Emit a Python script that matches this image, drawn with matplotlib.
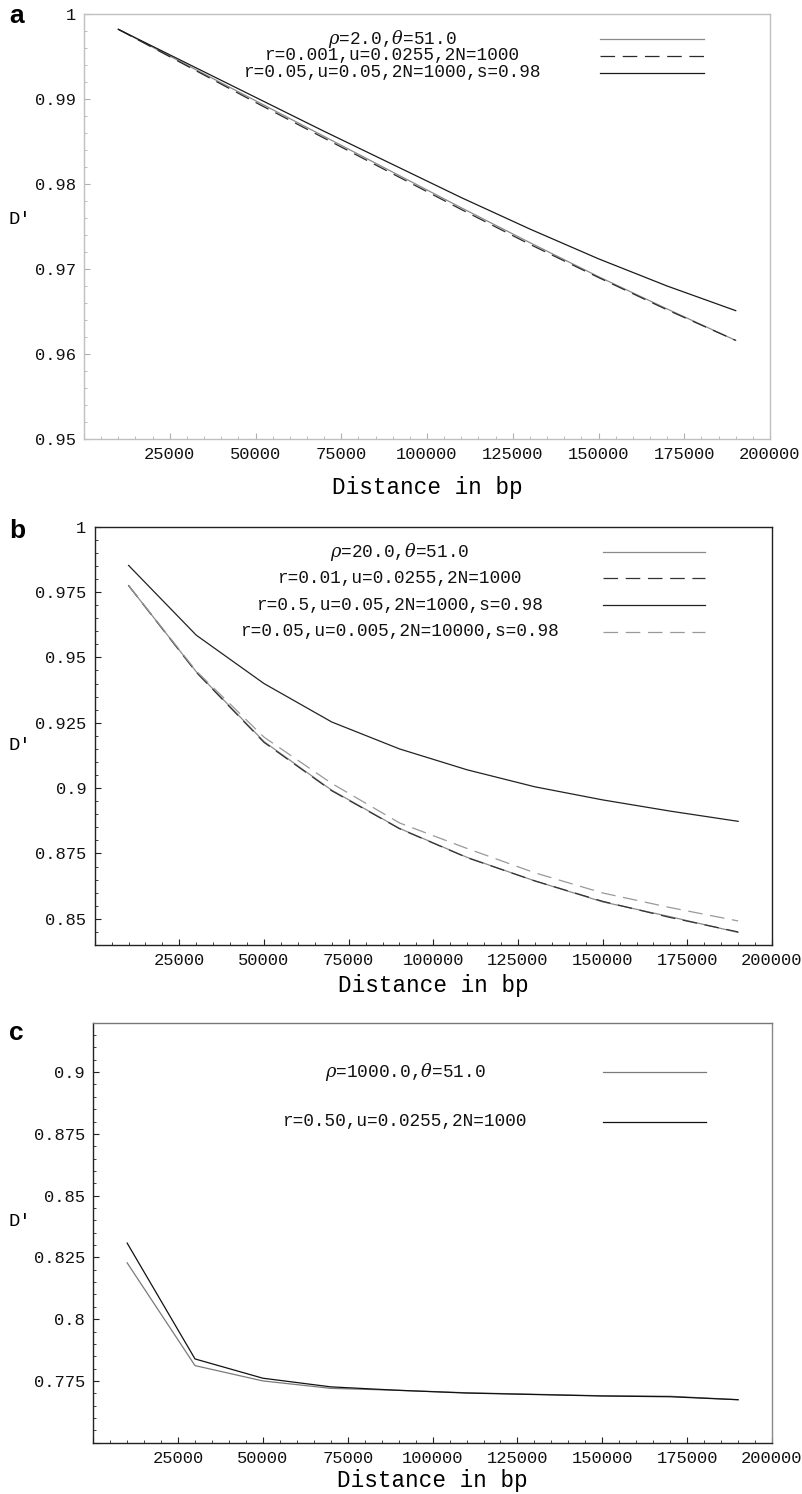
import matplotlib
matplotlib.use('Agg')
import matplotlib.pyplot as plt
from matplotlib.ticker import MultipleLocator, FuncFormatter

plt.rcParams['font.family'] = ['Liberation Mono', 'DejaVu Sans Mono']
plt.rcParams['mathtext.fontset'] = 'dejavuserif'
plt.rcParams['lines.scale_dashes'] = False

# distance in bp (same grid for all panels)
x_bp = [10000, 30000, 50000, 70000, 90000, 110000, 130000, 150000, 170000, 190000]

# panel a
a_labels = ['$\\rho$=2.0,$\\theta$=51.0', 'r=0.001,u=0.0255,2N=1000',
            'r=0.05,u=0.05,2N=1000,s=0.98']
a_rho = [0.9982, 0.9940, 0.9898, 0.9856, 0.9814, 0.9772, 0.9731, 0.9691, 0.9653, 0.9616]
a_r001 = [0.9982, 0.9939, 0.9896, 0.9854, 0.9812, 0.9770, 0.9729, 0.9690, 0.9652, 0.9616]
a_sel = [0.9982, 0.9942, 0.9902, 0.9862, 0.9823, 0.9784, 0.9747, 0.9712, 0.9680, 0.9651]

# panel b
b_labels = ['$\\rho$=20.0,$\\theta$=51.0', 'r=0.01,u=0.0255,2N=1000',
            'r=0.5,u=0.05,2N=1000,s=0.98', 'r=0.05,u=0.005,2N=10000,s=0.98']
b_rho = [0.9775, 0.9445, 0.9178, 0.8992, 0.8846, 0.8735, 0.8645, 0.8565, 0.8508, 0.8448]
b_r001 = [0.9775, 0.9443, 0.9175, 0.8990, 0.8845, 0.8734, 0.8645, 0.8567, 0.8505, 0.8450]
b_sel = [0.9852, 0.9585, 0.9400, 0.9253, 0.9150, 0.9070, 0.9005, 0.8955, 0.8912, 0.8873]
b_sel2 = [0.9775, 0.9448, 0.9195, 0.9018, 0.8867, 0.8769, 0.8676, 0.8599, 0.8543, 0.8492]

# panel c
c_labels = ['$\\rho$=1000.0,$\\theta$=51.0', 'r=0.50,u=0.0255,2N=1000']
c_rho = [0.8228, 0.7812, 0.7750, 0.7720, 0.7712, 0.7702, 0.7696, 0.7690, 0.7688, 0.7674]
c_r050 = [0.8308, 0.7839, 0.7761, 0.7726, 0.7712, 0.7701, 0.7695, 0.7689, 0.7686, 0.7674]

DASH = (10.5, 5.5)


def style_axes(ax, ylim, ymajor, yminor, spine_col, tick_col, skip_below=None):
    ax.set_xlim(0, 200000)
    ax.set_ylim(*ylim)
    ax.xaxis.set_major_locator(MultipleLocator(25000))
    ax.xaxis.set_minor_locator(MultipleLocator(5000))
    ax.yaxis.set_major_locator(MultipleLocator(ymajor))
    ax.yaxis.set_minor_locator(MultipleLocator(yminor))
    ax.xaxis.set_major_formatter(FuncFormatter(lambda v, p: '' if v == 0 else '%d' % v))

    def yfmt(v, p):
        if skip_below is not None and v < skip_below:
            return ''
        return '%g' % round(v, 4)
    ax.yaxis.set_major_formatter(FuncFormatter(yfmt))
    ax.tick_params(which='both', direction='in', colors=tick_col, labelcolor='#111111',
                   labelsize=12.3, pad=6)
    ax.tick_params(which='major', length=4.5, width=0.8)
    ax.tick_params(which='minor', length=2.5, width=0.6)
    for sp in ax.spines.values():
        sp.set_color(spine_col)
        sp.set_linewidth(1.0)


def key(ax, rows, labels, styles, xc, x0, x1):
    for y, lab, st in zip(rows, labels, styles):
        ax.text(xc, y, lab, transform=ax.transAxes, ha='center', va='center',
                fontsize=12.8, color='#111111')
        ax.plot([x0, x1], [y, y], transform=ax.transAxes, clip_on=False, **st)


fig = plt.figure(figsize=(8.03, 14.94), dpi=100)

# ---- a
ax = fig.add_axes([84/803, 1 - 439/1494, 686/803, 425/1494])
s_rho = dict(color='#8a8a8a', lw=0.9)
s_r = dict(color='#2a2a2a', lw=0.9, ls=(0, DASH))
s_sel = dict(color='#1a1a1a', lw=0.9)
ax.plot(x_bp, a_rho, **s_rho)
ax.plot(x_bp, a_r001, **s_r)
ax.plot(x_bp, a_sel, **s_sel)
style_axes(ax, (0.95, 1.0), 0.01, 0.002, '#c0c0c0', '#b0b0b0')
key(ax, [0.9405, 0.9012, 0.8619], a_labels, [s_rho, s_r, s_sel], 0.450, 0.752, 0.904)
ax.set_xlabel('Distance in bp', fontsize=16.3, labelpad=10)
fig.text(8/803, 1 - 219/1494, "D'", fontsize=13.5, ha='left', va='center')
fig.text(9/803, 1 - 16/1494, 'a', fontsize=19, fontweight='bold',
         family='Liberation Sans', ha='left', va='center')

# ---- b
ax = fig.add_axes([94.7/803, 1 - 945/1494, 677.3/803, 418.3/1494])
s_rho = dict(color='#8a8a8a', lw=0.9)
s_r = dict(color='#333333', lw=0.9, ls=(0, DASH))
s_sel = dict(color='#222222', lw=0.9)
s_sel2 = dict(color='#999999', lw=0.9, ls=(0, DASH))
ax.plot(x_bp, b_rho, **s_rho)
ax.plot(x_bp, b_r001, **s_r)
ax.plot(x_bp, b_sel, **s_sel)
ax.plot(x_bp, b_sel2, **s_sel2)
style_axes(ax, (0.84, 1.0), 0.025, 0.005, '#222222', '#222222')
key(ax, [0.940, 0.8766, 0.8127, 0.7489], b_labels, [s_rho, s_r, s_sel, s_sel2],
    0.4508, 0.7505, 0.901)
ax.set_xlabel('Distance in bp', fontsize=16.3, labelpad=4)
fig.text(8/803, 1 - 745/1494, "D'", fontsize=13.5, ha='left', va='center')
fig.text(9/803, 1 - 531/1494, 'b', fontsize=19, fontweight='bold',
         family='Liberation Sans', ha='left', va='center')

# ---- c
ax = fig.add_axes([93.2/803, 1 - 1442.7/1494, 678.8/803, 420/1494])
s_rho = dict(color='#7a7a7a', lw=0.9)
s_r = dict(color='#111111', lw=0.9)
ax.plot(x_bp, c_rho, **s_rho)
ax.plot(x_bp, c_r050, **s_r)
style_axes(ax, (0.75, 0.92), 0.025, 0.005, '#222222', '#222222', skip_below=0.76)
ax.spines['top'].set_color('#777777')
ax.spines['right'].set_color('#888888')
key(ax, [0.8833, 0.7643], c_labels, [s_rho, s_r], 0.4593, 0.751, 0.903)
ax.set_xlabel('Distance in bp', fontsize=16.3, labelpad=2)
fig.text(8/803, 1 - 1221/1494, "D'", fontsize=13.5, ha='left', va='center')
fig.text(9/803, 1 - 1033/1494, 'c', fontsize=19, fontweight='bold',
         family='Liberation Sans', ha='left', va='center')

fig.savefig('out.png', dpi=100)
